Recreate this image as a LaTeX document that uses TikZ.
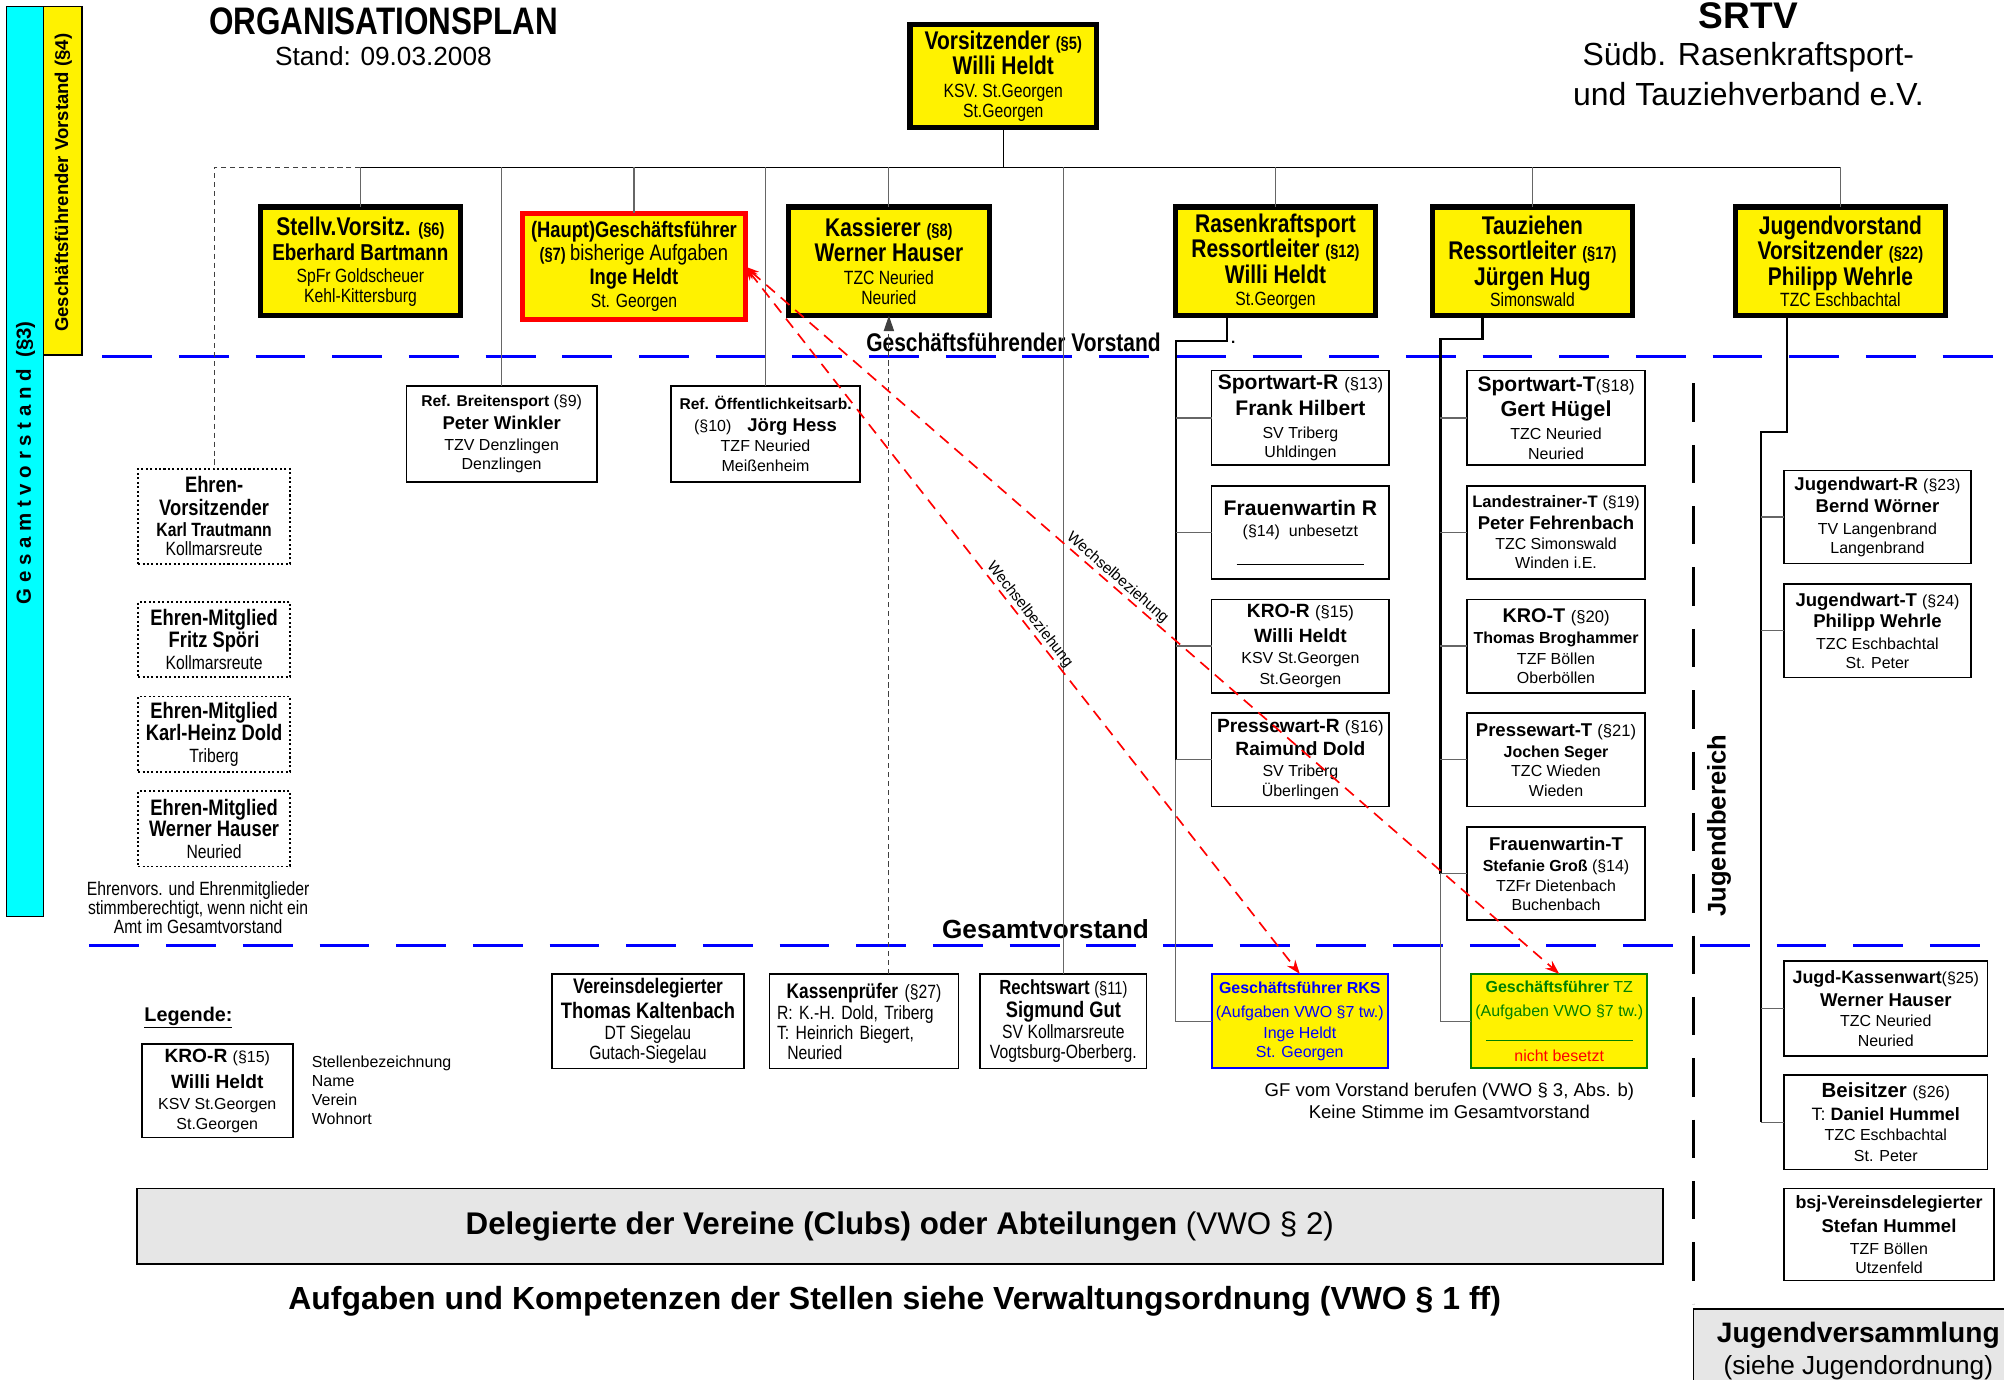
\documentclass[tikz,border=0pt]{standalone}
\usepackage{fontspec}
\setmainfont{Liberation Sans}
\newfontfamily\nf{Liberation Sans}[FakeStretch=0.82]
\usetikzlibrary{arrows.meta}
\definecolor{cy}{RGB}{0,255,255}
\definecolor{lgray}{RGB}{230,230,230}
\definecolor{dgreen}{RGB}{0,128,0}
\newcommand\fsz[2]{\fontsize{#1}{#2}\selectfont\lineskiplimit=-100pt\relax}
\newcommand\xh[2][20]{{\fsz{#1}{#1}\bfseries #2}}
\newcommand\xq[2][14]{{\fsz{#1}{#1}\bfseries #2}}
\newcommand\xw[2][16.5]{{\fsz{#1}{#1}\bfseries #2}}
\newcommand\xs[2][13]{{\fsz{#1}{#1}\mdseries #2}}
\tikzset{
  every node/.append style={inner sep=0pt, outer sep=0pt},
  tbox/.style={draw=black, line width=4pt, fill=yellow, align=center, font=\nf\fsz{15}{15.5}},
  wbox/.style={draw=black, line width=1.3pt, fill=white, align=center, font=\fsz{12.5}{15}},
  nbox/.style={draw=black, line width=1.3pt, fill=white, align=center, font=\nf\fsz{15}{15.5}},
  hbox/.style={draw=black, line width=1.4pt, dash pattern=on 1.6pt off 1.9pt, fill=white, align=center, font=\nf\fsz{15}{15.5}},
  conn/.style={draw=black!60, line width=0.9pt},
  spine/.style={draw=black, line width=1.8pt},
  thind/.style={draw=black!75, line width=0.8pt, dash pattern=on 4pt off 3pt},
  bdash/.style={draw=blue, line width=2.6pt, dash pattern=on 39pt off 21pt},
  kdash/.style={draw=black, line width=3pt, dash pattern=on 30pt off 18pt},
  rlink/.style={draw=red, line width=1.3pt, dash pattern=on 9pt off 6pt, {Stealth[length=11pt,width=8pt]}-{Stealth[length=11pt,width=8pt]}},
  wlab/.style={font=\fsz{12}{12}, text=black, sloped, above=1.5pt},
}
\begin{document}
\begin{tikzpicture}[x=1pt,y=-1pt]
\useasboundingbox (0,0) rectangle (1568,1079);
\fill[white] (0,0) rectangle (1568,1079);

% side bars
\draw[line width=1.3pt, fill=cy] (5,5) rectangle (34,717);
\draw[line width=1.3pt, fill=yellow] (34,5) rectangle (64,278);
\node[rotate=90, font=\fsz{16}{16}\bfseries] (gvtxt) at (20,362) {G e s a m t v o r s t a n d~~(§3)};
\node[rotate=90, font=\fsz{14.5}{14.5}\bfseries] (gfvtxt) at (49.5,143) {Geschäftsführender Vorstand (§4)};

% headers
\node[font=\nf\fsz{30}{30}\bfseries] (title) at (300,17) {ORGANISATIONSPLAN};
\node[font=\fsz{20.5}{20.5}] (stand) at (300,44) {Stand: 09.03.2008};
\node[font=\fsz{29}{29}\bfseries] (srtv) at (1368,12) {SRTV};
\node[font=\fsz{25}{25}] (srtv2) at (1368,45) {Südb. Rasenkraftsport-};
\node[font=\fsz{25}{25}] (srtv3) at (1368,74) {und Tauziehverband e.V.};

% blue dashed separators
\coordinate (sepA1) at (80,279);
\coordinate (sepA2) at (1568,279);
\coordinate (sepB1) at (70,740);
\coordinate (sepB2) at (1568,740);
\draw[bdash] (sepA1) -- (sepA2);
\draw[bdash] (sepB1) -- (sepB2);
\coordinate (jb1) at (1325,300);
\coordinate (jb2) at (1325,1020);
\draw[kdash] (jb1) -- (jb2);

% top level boxes
\node[tbox, minimum width=146pt, minimum height=81pt] (vors) at (785,59.5)
  {\xh{Vorsitzender \xq{(§5)}}\\[4.5pt]\xh{Willi Heldt}\\[2.5pt]KSV. St.Georgen\\St.Georgen};
\node[tbox, minimum width=156pt, minimum height=85pt] (stellv) at (282,204.5)
  {\xh{Stellv.Vorsitz. \xq{(§6)}}\\[4.5pt]\xh[18]{Eberhard Bartmann}\\[1.5pt]SpFr Goldscheuer\\Kehl-Kittersburg};
\node[tbox, draw=red, minimum width=174pt, minimum height=83pt] (hgf) at (496,208.5)
  {\xh[17.5]{(Haupt)Geschäftsführer}\\[2.5pt]{\xq{(§7)} \fsz{17.5}{17.5}bisherige Aufgaben}\\[3.5pt]\xh[17.5]{Inge Heldt}\\[2.5pt]St. Georgen\\[-12pt]\mbox{}};
\node[tbox, minimum width=157pt, minimum height=85pt] (kass) at (695.5,204.5)
  {\xh{Kassierer \xq{(§8)}}\\[3.5pt]\xh{Werner Hauser}\\[2.5pt]TZC Neuried\\Neuried};
\node[tbox, minimum width=156pt, minimum height=85pt] (rasen) at (998,204.5)
  {\xh{Rasenkraftsport}\\[4.5pt]\xh{Ressortleiter \xq{(§12)}}\\[4.5pt]\xh{Willi Heldt}\\[1.5pt]St.Georgen};
\node[tbox, minimum width=156pt, minimum height=85pt] (tau) at (1199,204.5)
  {\xh{Tauziehen}\\[4.5pt]\xh{Ressortleiter \xq{(§17)}}\\[4.5pt]\xh{Jürgen Hug}\\[1.5pt]Simonswald};
\node[tbox, minimum width=164pt, minimum height=85pt] (jug) at (1440,204.5)
  {\xh{Jugendvorstand}\\[4.5pt]\xh{Vorsitzender \xq{(§22)}}\\[4.5pt]\xh{Philipp Wehrle}\\[1.5pt]TZC Eschbachtal};

% referents
\node[wbox, minimum width=149pt, minimum height=75pt] (refb) at (392.5,339.5)
  {\xw[12.2]{Ref. Breitensport \xs[12.5]{(§9)}}\\[3pt]\xw[14.5]{Peter Winkler}\\[1pt]TZV Denzlingen\\Denzlingen};
\node[wbox, minimum width=148pt, minimum height=75pt] (refo) at (599,339.5)
  {\xw[12.2]{Ref. Öffentlichkeitsarb.}\\[2pt](§10)\quad\xw[14.5]{Jörg Hess}\\[1pt]TZF Neuried\\Meißenheim};

% honorary
\node[hbox, minimum width=119pt, minimum height=74pt] (ev) at (167.5,404)
  {\xh[17.5]{Ehren-}\\[2.5pt]\xh[17.5]{Vorsitzender}\\[0.5pt]\xh[15]{Karl Trautmann}\\Kollmarsreute};
\node[hbox, minimum width=119pt, minimum height=59pt] (em1) at (167.5,500.5)
  {\xh[17.5]{Ehren-Mitglied}\\[1.5pt]\xh[17.5]{Fritz Spöri}\\[1.5pt]Kollmarsreute};
\node[hbox, minimum width=119pt, minimum height=59pt] (em2) at (167.5,574.5)
  {\xh[17.5]{Ehren-Mitglied}\\[1.5pt]\xh[17.5]{Karl-Heinz Dold}\\[1.5pt]Triberg};
\node[hbox, minimum width=119pt, minimum height=59pt] (em3) at (167.5,648.5)
  {\xh[17.5]{Ehren-Mitglied}\\[1.5pt]\xh[17.5]{Werner Hauser}\\[1.5pt]Neuried};
\node[align=center, font=\nf\fsz{15}{15}] (ehnote) at (155,710)
  {Ehrenvors. und Ehrenmitglieder\\stimmberechtigt, wenn nicht ein\\Amt im Gesamtvorstand};

% Rasenkraftsport column
\node[wbox, minimum width=139pt, minimum height=74pt] (spr) at (1017.5,327)
  {\xw{Sportwart-R \xs{(§13)}}\\[5pt]\xw{Frank Hilbert}\\[3pt]SV Triberg\\Uhldingen};
\node[wbox, minimum width=139pt, minimum height=73pt] (frr) at (1017.5,416.5)
  {\xw{Frauenwartin R}\\[2pt](§14)~~unbesetzt\\[7pt]\rule{100pt}{0.7pt}};
\node[wbox, minimum width=139pt, minimum height=73pt] (kror) at (1017.5,505.5)
  {\xw[15]{KRO-R \xs{(§15)}}\\[4pt]\xw[15]{Willi Heldt}\\[2pt]KSV St.Georgen\\[1pt]St.Georgen};
\node[wbox, minimum width=139pt, minimum height=73pt] (prr) at (1017.5,594.5)
  {\xw[15]{Pressewart-R \xs{(§16)}}\\[3pt]\xw[15]{Raimund Dold}\\[1pt]SV Triberg\\[1pt]Überlingen};

% Tauziehen column
\node[wbox, minimum width=139pt, minimum height=74pt] (spt) at (1217.5,327)
  {\xw{Sportwart-T\xs{(§18)}}\\[5pt]\xw[17]{Gert Hügel}\\[3pt]TZC Neuried\\Neuried};
\node[wbox, minimum width=139pt, minimum height=73pt] (ltt) at (1217.5,416.5)
  {\xw[13]{Landestrainer-T \xs[12.5]{(§19)}}\\[2pt]\xw[14.5]{Peter Fehrenbach}\\[1pt]TZC Simonswald\\Winden i.E.};
\node[wbox, minimum width=139pt, minimum height=73pt] (krot) at (1217.5,505.5)
  {\xw[15.5]{KRO-T \xs{(§20)}}\\[2pt]\xw[12.5]{Thomas Broghammer}\\[1pt]TZF Böllen\\Oberböllen};
\node[wbox, minimum width=139pt, minimum height=73pt] (prt) at (1217.5,594.5)
  {\xw[14.5]{Pressewart-T \xs{(§21)}}\\[2pt]\xw[12.5]{Jochen Seger}\\TZC Wieden\\Wieden};
\node[wbox, minimum width=139pt, minimum height=73pt] (frt) at (1217.5,683.5)
  {\xw[14.5]{Frauenwartin-T}\\[2pt]\xw[12.5]{Stefanie Groß \xs[12.5]{(§14)}}\\TZFr Dietenbach\\Buchenbach};

% GF boxes
\node[wbox, draw=blue, line width=1.6pt, fill=yellow, text=blue, minimum width=138pt, minimum height=74pt] (gfr) at (1017,799)
  {\textbf{Geschäftsführer RKS}\\[4pt](Aufgaben VWO §7 tw.)\\[1pt]Inge Heldt\\St. Georgen};
\node[wbox, draw=dgreen, line width=1.6pt, fill=yellow, text=dgreen, minimum width=138pt, minimum height=74pt] (gft) at (1220,799)
  {\textbf{Geschäftsführer} TZ\\[4pt](Aufgaben VWO §7 tw.)\\[4pt]\rule{115pt}{0.7pt}\\[1pt]{\color{red}nicht besetzt}};
\node[align=center, font=\fsz{14.5}{17}] (gfnote) at (1134,861.5)
  {GF vom Vorstand berufen (VWO § 3, Abs. b)\\Keine Stimme im Gesamtvorstand};

% Jugend column
\node[wbox, minimum width=146pt, minimum height=73pt] (jwr) at (1469,404.5)
  {\xw[14.5]{Jugendwart-R \xs[12.5]{(§23)}}\\[2pt]\xw[14.5]{Bernd Wörner}\\[2pt]TV Langenbrand\\Langenbrand};
\node[wbox, minimum width=146pt, minimum height=73pt] (jwt) at (1469,493.5)
  {\xw[14.5]{Jugendwart-T \xs[12.5]{(§24)}}\\[2pt]\xw[14.5]{Philipp Wehrle}\\[2pt]TZC Eschbachtal\\St. Peter};
\node[wbox, minimum width=159pt, minimum height=74pt] (jkw) at (1475.5,789)
  {\xw[14]{Jugd-Kassenwart\xs[12.5]{(§25)}}\\[3pt]\xw[14.5]{Werner Hauser}\\[1pt]TZC Neuried\\Neuried};
\node[wbox, minimum width=159pt, minimum height=74pt] (beis) at (1475.5,878)
  {\xw[16]{Beisitzer \xs[12.5]{(§26)}}\\[3pt]{\fsz{14}{14}T: \textbf{Daniel Hummel}}\\[1pt]TZC Eschbachtal\\[1pt]St. Peter};
\node[wbox, minimum width=164pt, minimum height=72pt] (bsj) at (1478,966)
  {\xw[14]{bsj-Vereinsdelegierter}\\[4pt]\xw[14.5]{Stefan Hummel}\\[2pt]TZF Böllen\\Utzenfeld};

% bottom row
\node[nbox, minimum width=150pt, minimum height=74pt] (vd) at (507,799)
  {\xh[16.5]{Vereinsdelegierter}\\[3.5pt]\xh[17.5]{Thomas Kaltenbach}\\[1.5pt]DT Siegelau\\Gutach-Siegelau};
\node[nbox, align=left, text width=136pt, minimum width=148pt, minimum height=74pt] (kp) at (676,799)
  {\makebox[136pt]{\xh[16.5]{Kassenprüfer} (§27)}\\[1.5pt]R: K.-H. Dold, Triberg\\T: Heinrich Biegert,\\\hspace*{8pt}Neuried};
\node[nbox, minimum width=130pt, minimum height=74pt] (rw) at (832,799)
  {\xh[16]{Rechtswart \xs[14]{(§11)}}\\[2.5pt]\xh[17.5]{Sigmund Gut}\\[0.5pt]SV Kollmarsreute\\Vogtsburg-Oberberg.};

% legend
\node[anchor=west, font=\fsz{15.5}{15.5}\bfseries] (legt) at (113,796) {\underline{Legende:}};
\node[wbox, minimum width=118pt, minimum height=73pt] (leg) at (170,853.5)
  {\xw[15]{KRO-R \xs[12.5]{(§15)}}\\[5pt]\xw[15]{Willi Heldt}\\[2pt]KSV St.Georgen\\St.Georgen};
\node[anchor=north west, align=left, font=\fsz{12.5}{15}] (legx) at (244,826)
  {Stellenbezeichnung\\Name\\Verein\\Wohnort};

% bottom bands
\node[draw=black, line width=1.3pt, fill=lgray, minimum width=1194pt, minimum height=59pt, font=\fsz{24.5}{24.5}] (deleg) at (704,959.5)
  {\textbf{Delegierte der Vereine (Clubs) oder Abteilungen} (VWO § 2)};
\node[font=\fsz{25}{25}\bfseries] (aufg) at (700,1018)
  {Aufgaben und Kompetenzen der Stellen siehe Verwaltungsordnung (VWO § 1 ff)};
\node[draw=black, line width=1.3pt, fill=lgray, align=center, minimum width=258pt, minimum height=66pt, font=\fsz{20.5}{25}] (jv) at (1454,1057)
  {\xw[22]{Jugendversammlung}\\(siehe Jugendordnung)};

% section labels
\node[font=\nf\fsz{20}{20}\bfseries] (gfvlab) at (793,268) {Geschäftsführender Vorstand};
\node[font=\fsz{12}{12}\bfseries] (dotlab) at (965,268) {.};
\node[font=\fsz{20.5}{20.5}\bfseries] (gvlab) at (818,727) {Gesamtvorstand};
\node[rotate=90, font=\fsz{20}{20}\bfseries] (jblab) at (1345,646) {Jugendbereich};

% connectors: top bus
\coordinate (bus) at (0,131);
\draw[conn, draw=black] (vors.south) -- (vors.south |- bus);
\draw[conn, draw=black] (stellv.north |- bus) -- (jug.north |- bus);
\draw[thind] (stellv.north |- bus) -- (ev.north |- bus) -- (ev.north);
\foreach \n in {stellv,refb,hgf,refo,kass,rasen,tau,jug}
  \draw[conn] (\n.north |- bus) -- (\n.north);
\draw[conn] (rw.north |- bus) -- (rw.north);
\draw[thind, -{Triangle[length=12pt,width=8pt]}] (kp.north -| kass.south) -- (kass.south);

% Rasenkraftsport spine
\coordinate (ra1) at (960,267);
\coordinate (ra2) at (920,267);
\draw[spine] (rasen.south -| ra1) -- (ra1) -- (ra2) -- (ra2 |- prr.west);
\draw[conn] (ra2 |- prr.west) -- (ra2 |- gfr.west) -- (gfr.west);
\foreach \n in {spr,frr,kror,prr}
  \draw[conn] (ra2 |- \n.west) -- (\n.west);

% Tauziehen spine
\coordinate (ta1) at (1160,265);
\coordinate (ta2) at (1127,265);
\draw[spine] (tau.south -| ta1) -- (ta1) -- (ta2) -- (ta2 |- frt.west);
\draw[conn] (ta2 |- frt.west) -- (ta2 |- gft.west) -- (gft.west);
\foreach \n in {spt,ltt,krot,prt,frt}
  \draw[conn] (ta2 |- \n.west) -- (\n.west);

% Jugend spine
\coordinate (ju1) at (1398,338);
\coordinate (ju2) at (1378,338);
\draw[spine] (jug.south -| ju1) -- (ju1) -- (ju2) -- (ju2 |- beis.west);
\foreach \n in {jwr,jwt,jkw,beis}
  \draw[conn] (ju2 |- \n.west) -- (\n.west);

% Wechselbeziehung links
\draw[rlink] (hgf.east) -- node[wlab, pos=0.5] (wb1) {Wechselbeziehung} (gfr.north);
\draw[rlink] (hgf.east) -- node[wlab, pos=0.45] (wb2) {Wechselbeziehung} (gft.north);
\end{tikzpicture}
\end{document}
